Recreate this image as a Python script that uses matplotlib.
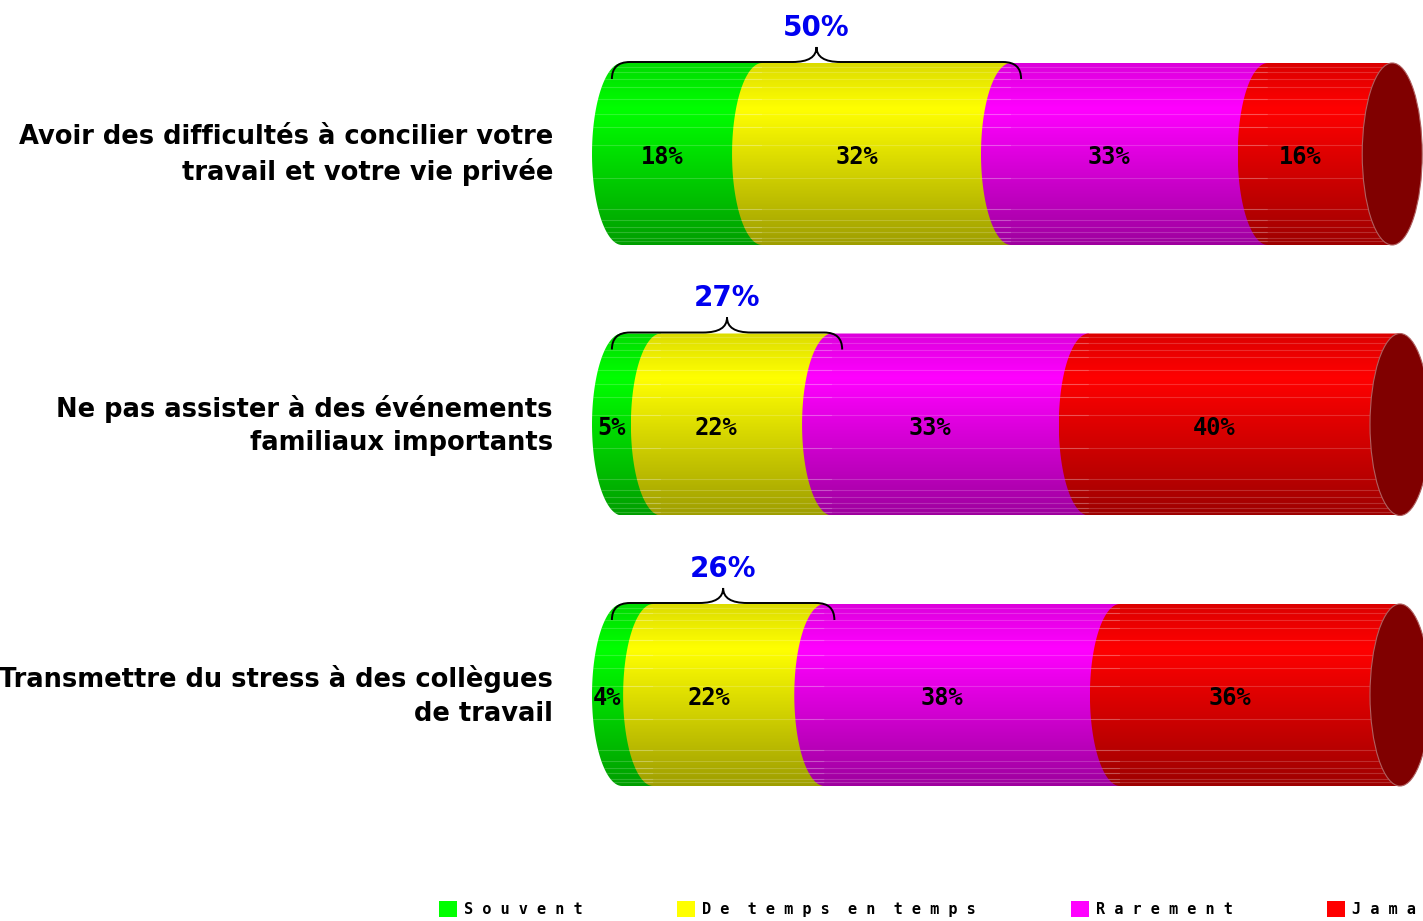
import numpy as np
import matplotlib.pyplot as plt
from matplotlib.path import Path
from matplotlib.patches import PathPatch, Ellipse, Patch
from matplotlib.colors import to_rgb

categories = ["Avoir des difficultés à concilier votre\ntravail et votre vie privée",
              "Ne pas assister à des événements\nfamiliaux importants",
              "Transmettre du stress à des collègues\nde travail"]
series = ["Souvent", "De temps en temps", "Rarement", "Jamais"]
souvent = [18, 5, 4]
de_temps = [32, 22, 22]
rarement = [33, 33, 38]
jamais = [16, 40, 36]
colors = ["#00ff00", "#ffff00", "#ff00ff", "#ff0000"]
cap_color = "#800000"

values = np.array([souvent, de_temps, rarement, jamais]).T

fig = plt.figure(figsize=(14.23, 9.21), dpi=100)
ax = fig.add_axes([0, 0, 1, 1])
ax.axis('off')

px = 7.78      # pixels per percent
py = 270.5     # pixels per row
a = 30 / px    # half width of the cylinder ellipse
h = 91 / py    # half height of a bar


def shade(c):
    c = np.array(to_rgb(c))
    pos = np.linspace(0, 1, 200)
    f = np.interp(pos, [0, 0.25, 1], [0.86, 1.0, 0.62])
    return (f[:, None] * c)[:, None, :]


def brace(xl, xr, y):
    # y = top edge of the bar (axis is inverted)
    ye, yl, yp = y + 16 / py, y - 1 / py, y - 16 / py
    xm = (xl + xr) / 2
    r1, r2 = 18 / px, 24 / px
    verts = [(xl, ye), (xl, yl), (xl + r1, yl), (xm - r2, yl), (xm, yl), (xm, yp),
             (xm, yl), (xm + r2, yl), (xr - r1, yl), (xr, yl), (xr, ye)]
    codes = [Path.MOVETO, Path.CURVE3, Path.CURVE3, Path.LINETO, Path.CURVE3, Path.CURVE3,
             Path.CURVE3, Path.CURVE3, Path.LINETO, Path.CURVE3, Path.CURVE3]
    ax.add_patch(PathPatch(Path(verts, codes), fc='none', ec='black', lw=1.4, zorder=5))


t = np.linspace(np.pi / 2, 3 * np.pi / 2, 60)
stripes = [0.02, 0.05, 0.09, 0.13, 0.2, 0.28, 0.35, 0.45, 0.63, 0.8, 0.86, 0.9, 0.93, 0.96, 0.98]
for i, row in enumerate(values):
    left = 0
    for j, v in enumerate(row):
        x0, x1 = left, left + v
        xs = np.r_[x0 + a * np.cos(t), x1, x1]
        ys = np.r_[i - h * np.sin(t), i + h, i - h]
        patch = PathPatch(Path(np.c_[xs, ys]), fc='none', ec='none')
        ax.add_patch(patch)
        im = ax.imshow(shade(colors[j]), extent=(x0 - a, x1, i + h, i - h), origin='upper',
                       aspect='auto', interpolation='bilinear', zorder=1)
        im.set_clip_path(patch)
        for s in stripes:
            ln, = ax.plot([x0 - a, x1], [i - h + 2 * h * s] * 2, color='white', alpha=0.18, lw=0.8, zorder=2)
            ln.set_clip_path(patch)
        ax.text((x0 + x1) / 2 - a, i + 3 / py, f"{v}%", ha='center', va='center', fontsize=17,
                family='DejaVu Sans Mono', weight='bold', color='black', zorder=6)
        left = x1
    ax.add_patch(Ellipse((left, i), 2 * a, 2 * h, fc=cap_color, ec='#b06060', lw=0.8, zorder=3))

    top2 = row[0] + row[1]
    brace(-1.3, top2 + 1.3, i - h)
    ax.text(top2 / 2, i - h - 35 / py, f"{top2}%", ha='center', va='center', fontsize=20,
            weight='bold', color='#0000f0', zorder=6)

    ax.text(-69 / px, i + 1 / py, categories[i], ha='right', va='center', fontsize=18.5,
            weight='bold', color='black', linespacing=1.36)

ax.set_xlim(-622 / px, (1423 - 622) / px)
ax.set_ylim((921 - 154) / py, -154 / py)

labels = ["  ".join(" ".join(w) for w in s.split()) for s in series]
handles = [Patch(fc=c, ec='none') for c in colors]
fig.legend(handles, labels, loc='center left', bbox_to_anchor=(439 / 1423, 1 - 909 / 921), ncol=4,
           frameon=False, prop=dict(family='DejaVu Sans Mono', weight='bold', size=11),
           handlelength=1.18, handleheight=1.18, handletextpad=0.45, columnspacing=6.2,
           borderpad=0, borderaxespad=0)

fig.savefig('out.png', dpi=100)
